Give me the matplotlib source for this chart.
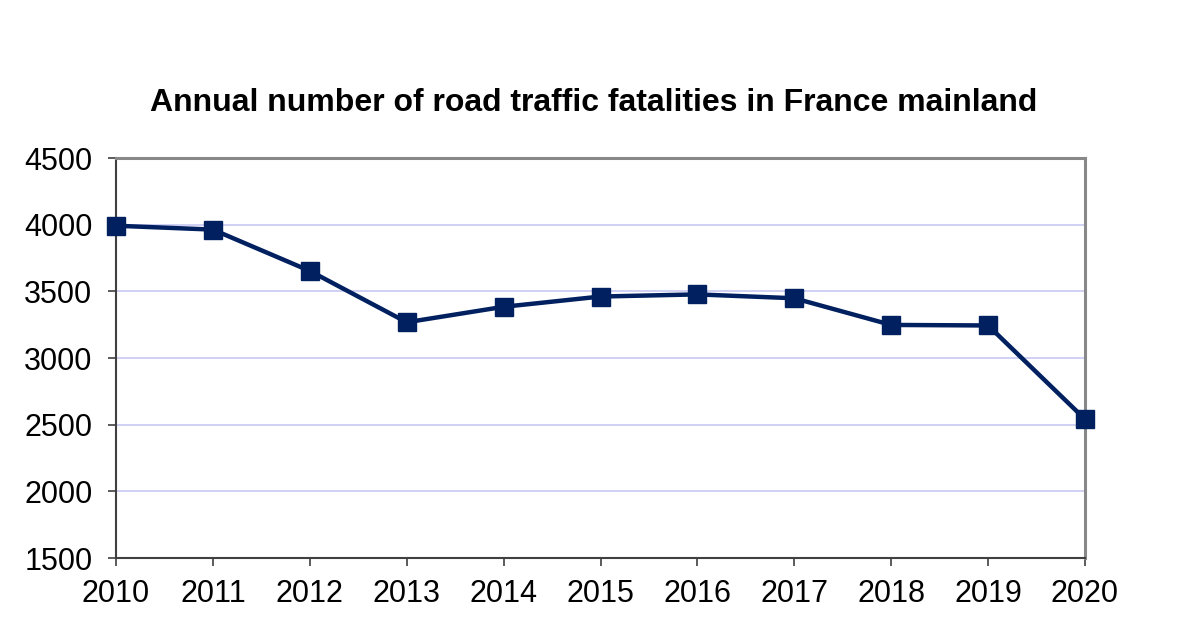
import matplotlib.pyplot as plt

# Données : tués sur les routes, France métropolitaine
years = [2010, 2011, 2012, 2013, 2014, 2015, 2016, 2017, 2018, 2019, 2020]
fatalities = [3992, 3963, 3653, 3268, 3384, 3461, 3477, 3448, 3248, 3244, 2541]
yticks = [1500, 2000, 2500, 3000, 3500, 4000, 4500]

plt.rcParams['font.family'] = ['Liberation Sans', 'DejaVu Sans']

fig = plt.figure(figsize=(12, 6.4), dpi=100)
ax = fig.add_axes([116 / 1200, 1 - 558 / 640, (1085 - 116) / 1200, 400 / 640])

ax.plot(years, fatalities, color='#002060', linewidth=3.2, marker='s',
        markersize=13, clip_on=False, zorder=3)

ax.set_xlim(2010, 2020)
ax.set_ylim(1500, 4500)
ax.set_xticks(years)
ax.set_yticks(yticks)
ax.tick_params(labelsize=22, length=6, width=1.2, color='#404040')
ax.tick_params(axis='y', pad=11)
ax.tick_params(axis='x', pad=9)
ax.grid(axis='y', color='#c8c8f4', linewidth=1.2)
ax.set_axisbelow(True)

for side in ['left', 'bottom']:
    ax.spines[side].set_color('#404040')
    ax.spines[side].set_linewidth(1.5)
for side in ['top', 'right']:
    ax.spines[side].set_color('#888888')
    ax.spines[side].set_linewidth(2.2)

fig.text(0.495, 1 - 103 / 640, 'Annual number of road traffic fatalities in France mainland',
         ha='center', va='center', fontsize=23, fontweight='bold')

fig.savefig('out.png', dpi=100, facecolor='white')
